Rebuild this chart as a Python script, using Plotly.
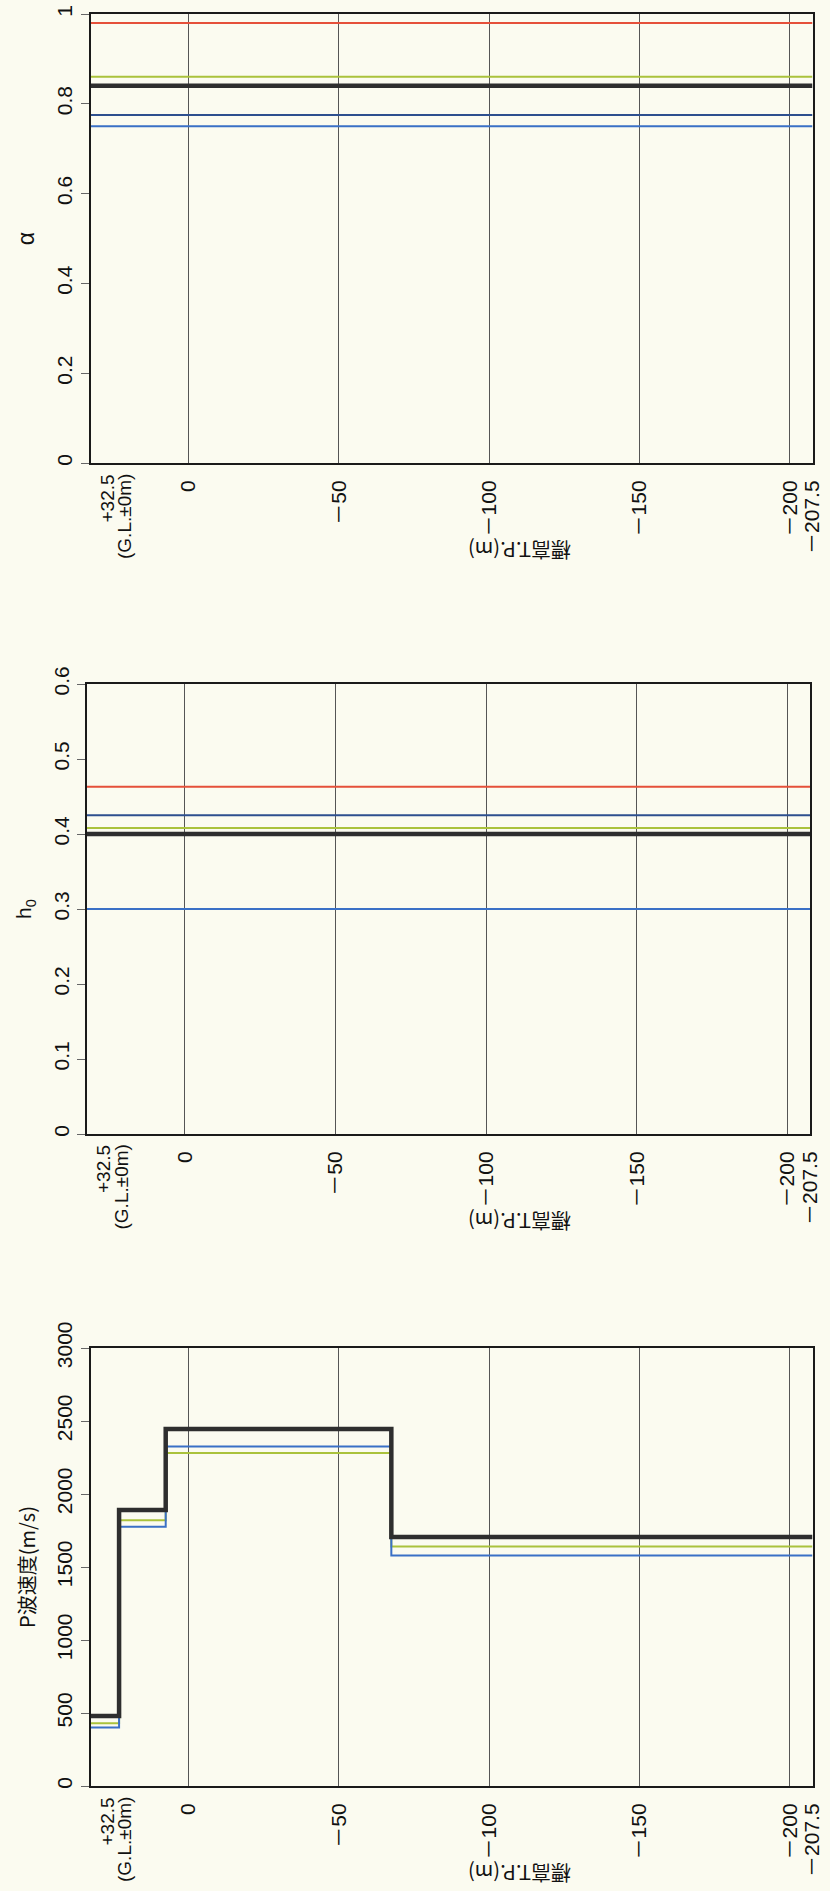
import plotly.graph_objects as go

W, H = 830, 1891

# ---------------- data ----------------
ELEV_TOP = 32.5
ELEV_BOTTOM = -207.5
X_TICKVALS = [0, -50, -100, -150, -200, -207.5]
X_TICKTEXT = ["0", "－50", "－100", "－150", "－200", "－207.5"]
TOP_LABEL_1 = "+32.5"
TOP_LABEL_2 = "(G.L.±0m)"
X_TITLE = "標高T.P.(m)"
Y_TITLES = ["α", "h<sub>0</sub>", "P波速度(m/s)"]

CASES = ["red", "yellowgreen", "navy", "blue", "black"]
ALPHA_VALUES = [0.98, 0.86, 0.775, 0.75, 0.84]
H0_VALUES = [0.463, 0.408, 0.425, 0.30, 0.40]

LAYER_BOUNDS = [32.5, 23.0, 7.5, -67.5, -207.5]
VP_YELLOWGREEN = [430, 1820, 2280, 1640]
VP_BLUE = [400, 1775, 2325, 1578]
VP_BLACK = [480, 1890, 2445, 1705]

ALPHA_TICKS = [0, 0.2, 0.4, 0.6, 0.8, 1]
H0_TICKS = [0, 0.1, 0.2, 0.3, 0.4, 0.5, 0.6]
VP_TICKS = [0, 500, 1000, 1500, 2000, 2500, 3000]

# ---------------- styles ----------------
COLORS = {"red": "#e5503a", "yellowgreen": "#aac23c", "navy": "#2d4f8e",
          "blue": "#3a70c6", "black": "#2e2e2e"}
WIDTHS = {"red": 2, "yellowgreen": 2, "navy": 2, "blue": 2, "black": 4.5}
BG = "#fbfbf0"
FONT = "Liberation Sans, Arial, Noto Sans CJK JP, sans-serif"
JFONT = "Noto Sans CJK JP, sans-serif"
TXT = "#111111"
TICK_SIZE = 21

fig = go.Figure()

# panel geometry in pixels (left, right, top, bottom)
panels = [
    (90.5, 812.5, 14, 463),
    (87, 810, 684, 1134),
    (90.5, 812.5, 1348, 1786),
]


def add_const(values, xa, ya):
    order = sorted(range(len(CASES)), key=lambda i: CASES[i] == "black")
    for i in order:
        c = CASES[i]
        fig.add_trace(go.Scatter(
            x=[ELEV_TOP, ELEV_BOTTOM], y=[values[i], values[i]],
            mode="lines", line=dict(color=COLORS[c], width=WIDTHS[c]),
            xaxis=xa, yaxis=ya, showlegend=False, hoverinfo="skip"))


add_const(ALPHA_VALUES, "x", "y")
add_const(H0_VALUES, "x2", "y2")

for name, vals in [("yellowgreen", VP_YELLOWGREEN), ("blue", VP_BLUE), ("black", VP_BLACK)]:
    fig.add_trace(go.Scatter(
        x=LAYER_BOUNDS, y=vals + [vals[-1]], mode="lines", line_shape="hv",
        line=dict(color=COLORS[name], width=WIDTHS[name]),
        xaxis="x3", yaxis="y3", showlegend=False, hoverinfo="skip"))

yranges = [[0, 1], [0, 0.6], [0, 3000]]
yticks = [ALPHA_TICKS, H0_TICKS, VP_TICKS]
ytitle_sizes = [23, 21, 20]
layout = {}
for k, (l, r, t, b) in enumerate(panels):
    sx = "" if k == 0 else str(k + 1)
    layout["xaxis" + sx] = dict(
        domain=[l / W, r / W], anchor="y" + sx, range=[ELEV_TOP, ELEV_BOTTOM],
        tickmode="array", tickvals=X_TICKVALS, ticktext=X_TICKTEXT,
        tickangle=-90, ticks="", ticklabelstandoff=7, automargin=False,
        showgrid=True, gridcolor="#555555", gridwidth=1,
        showline=True, mirror=True, linecolor="#1a1a1a", linewidth=2,
        zeroline=False, tickfont=dict(size=TICK_SIZE, family=FONT, color=TXT))
    layout["yaxis" + sx] = dict(
        domain=[1 - b / H, 1 - t / H], anchor="x" + sx, range=yranges[k],
        tickmode="array", tickvals=yticks[k], tickangle=-90, automargin=False,
        ticks="outside", ticklen=8, tickcolor="#666", showgrid=False,
        showline=True, mirror=True, linecolor="#1a1a1a", linewidth=2,
        zeroline=False, tickfont=dict(size=TICK_SIZE, family=FONT, color=TXT),
        title=dict(text=Y_TITLES[k], standoff=12,
                   font=dict(size=ytitle_sizes[k], family=JFONT if k == 2 else FONT, color=TXT)))

annotations = []
for (l, r, t, b) in panels:
    annotations.append(dict(text=X_TITLE, x=520 / W, y=1 - (b + 88) / H, xref="paper", yref="paper",
                            showarrow=False, textangle=180, xanchor="center", yanchor="middle",
                            font=dict(size=20, family=JFONT, color=TXT)))
    annotations.append(dict(text=TOP_LABEL_1, x=(l + 16) / W, y=1 - (b + 9) / H, xref="paper", yref="paper",
                            showarrow=False, textangle=-90, xanchor="center", yanchor="top",
                            font=dict(size=19, family=FONT, color=TXT)))
    annotations.append(dict(text=TOP_LABEL_2, x=(l + 34) / W, y=1 - (b + 9) / H, xref="paper", yref="paper",
                            showarrow=False, textangle=-90, xanchor="center", yanchor="top",
                            font=dict(size=19, family=FONT, color=TXT)))

fig.update_layout(
    width=W, height=H, margin=dict(l=0, r=0, t=0, b=0),
    paper_bgcolor=BG, plot_bgcolor=BG, showlegend=False,
    annotations=annotations, **layout)

fig.write_html("out.html")
